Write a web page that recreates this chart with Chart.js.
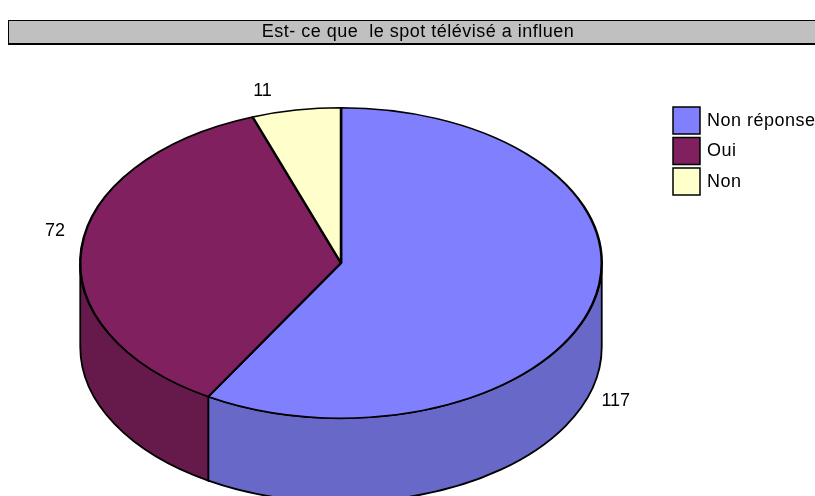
<!DOCTYPE html>
<html>
<head>
<meta charset="utf-8">
<title>Est- ce que le spot télévisé a influencé</title>
<script src="https://cdn.jsdelivr.net/npm/chart.js@4/dist/chart.umd.min.js"></script>
<style>
    html, body { margin: 0; padding: 0; background: #fff; }
    canvas { display: block; }
</style>
</head>
<body>
<canvas id="myChart" width="815" height="496"></canvas>
<script>
const categories = ['Non réponse', 'Oui', 'Non'];
const answerCounts = [117, 72, 11];
const titleText = 'Est- ce que  le spot télévisé a influen';

document.addEventListener("DOMContentLoaded", function () {
    const topColors = ['#8080FF', '#80205F', '#FFFFCC'];
    const sideColors = ['#6868C8', '#661A4C', '#CCCCA3'];
    const fontFamily = '"Liberation Sans", Arial, sans-serif';
    const pieDepth = 84;

    const ctx = document.getElementById("myChart").getContext('2d');

    // horizontal stretch of the pie: the chart area is wider than tall
    function stretchOf(chart) {
        const area = chart.chartArea;
        return area.width / area.height;
    }

    const titleBox = {
        id: 'titleBox',
        beforeDraw(chart) {
            const c = chart.ctx;
            c.save();
            c.fillStyle = '#fff';
            c.fillRect(0, 0, chart.width, chart.height);
            c.fillStyle = '#C0C0C0';
            c.fillRect(8, 20, 830, 23);
            c.strokeStyle = '#000';
            c.lineWidth = 1;
            c.strokeRect(8.5, 20.5, 830, 23);
            c.lineWidth = 2;
            c.beginPath();
            c.moveTo(8, 44);
            c.lineTo(chart.width, 44);
            c.stroke();
            c.fillStyle = '#000';
            c.font = '18px ' + fontFamily;
            c.letterSpacing = '0.5px';
            c.textAlign = 'center';
            c.textBaseline = 'alphabetic';
            c.fillText(titleText, 418, 37);
            c.restore();
        }
    };

    const pie3d = {
        id: 'pie3d',
        beforeDatasetsDraw(chart) {
            const c = chart.ctx;
            const sx = stretchOf(chart);
            const meta = chart.getDatasetMeta(0);
            c.save();
            c.strokeStyle = '#000';
            c.lineWidth = 1.8;
            meta.data.forEach(function (arc, i) {
                const p = arc.getProps(['x', 'y', 'startAngle', 'endAngle', 'outerRadius'], true);
                for (let k = -1; k <= 1; k++) {
                    const lo = Math.max(p.startAngle, 2 * Math.PI * k);
                    const hi = Math.min(p.endAngle, Math.PI + 2 * Math.PI * k);
                    if (hi <= lo) continue;
                    c.beginPath();
                    c.ellipse(p.x, p.y, p.outerRadius * sx, p.outerRadius, 0, lo, hi, false);
                    c.ellipse(p.x, p.y + pieDepth, p.outerRadius * sx, p.outerRadius, 0, hi, lo, true);
                    c.closePath();
                    c.fillStyle = sideColors[i];
                    c.fill();
                    c.stroke();
                }
            });
            c.restore();

            // squash the library's circle into the top ellipse
            const cx = (chart.chartArea.left + chart.chartArea.right) / 2;
            c.save();
            c.translate(cx, 0);
            c.scale(sx, 1);
            c.translate(-cx, 0);
        },
        afterDatasetsDraw(chart) {
            const c = chart.ctx;
            c.restore();

            const sx = stretchOf(chart);
            const meta = chart.getDatasetMeta(0);
            const values = chart.data.datasets[0].data;
            c.save();
            c.fillStyle = '#000';
            c.font = '18px ' + fontFamily;
            c.textAlign = 'center';
            c.textBaseline = 'middle';
            meta.data.forEach(function (arc, i) {
                const p = arc.getProps(['x', 'y', 'startAngle', 'endAngle', 'outerRadius'], true);
                const mid = (p.startAngle + p.endAngle) / 2;
                const cos = Math.cos(mid), sin = Math.sin(mid);
                const lx = p.x + 1.12 * p.outerRadius * sx * cos - 30 * sin * sin - 5 * cos;
                const ly = p.y + 1.12 * p.outerRadius * sin + (sin > 0 ? pieDepth + 8 : -16 * cos * cos);
                c.fillText(String(values[i]), lx, ly);
            });
            c.restore();
        },
        afterDraw(chart) {
            const c = chart.ctx;
            c.save();
            c.font = '18px ' + fontFamily;
            c.letterSpacing = '0.5px';
            c.textAlign = 'left';
            c.textBaseline = 'middle';
            chart.data.labels.forEach(function (label, i) {
                const top = 107 + i * 30.5;
                c.fillStyle = topColors[i];
                c.fillRect(673, top, 27, 27);
                c.strokeStyle = '#000';
                c.lineWidth = 1.5;
                c.strokeRect(673, top, 27, 27);
                c.fillStyle = '#000';
                c.fillText(label, 707, top + 14);
            });
            c.restore();
        }
    };

    new Chart(ctx, {
        type: 'pie',
        data: {
            labels: categories,
            datasets: [{
                data: answerCounts,
                backgroundColor: topColors,
                borderColor: '#000',
                borderWidth: 1.5
            }]
        },
        options: {
            responsive: false,
            animation: false,
            devicePixelRatio: 1,
            events: [],
            layout: {
                padding: { left: 79, right: 212, top: 107, bottom: 77 }
            },
            plugins: {
                legend: { display: false },
                title: { display: false },
                tooltip: { enabled: false }
            }
        },
        plugins: [titleBox, pie3d]
    });
});
</script>
</body>
</html>
